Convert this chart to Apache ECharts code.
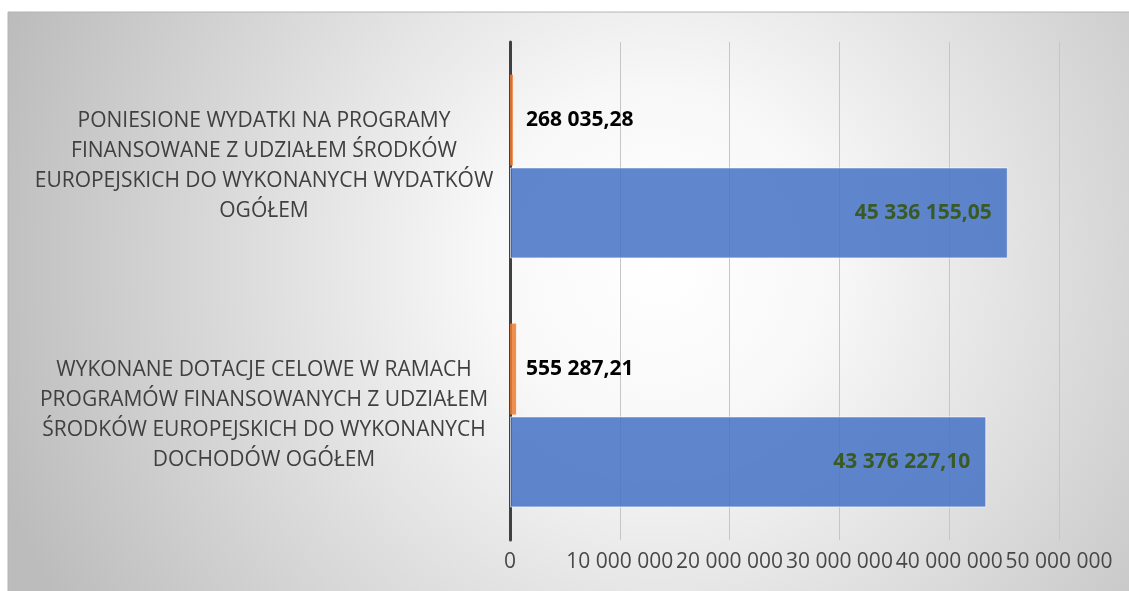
<!DOCTYPE html>
<html>
<head>
<meta charset="utf-8">
<script src="https://cdn.jsdelivr.net/npm/echarts@6/dist/echarts.min.js"></script>
<style>
html,body{margin:0;padding:0;background:#ffffff;}
#chart{width:1129px;height:591px;}
</style>
</head>
<body>
<div id="chart"></div>
<script>
// Categories (bottom to top, as in the source chart)
const categories = [
  "WYKONANE DOTACJE CELOWE W RAMACH\nPROGRAMÓW FINANSOWANYCH Z UDZIAŁEM\nŚRODKÓW EUROPEJSKICH DO WYKONANYCH\nDOCHODÓW OGÓŁEM",
  "PONIESIONE WYDATKI NA PROGRAMY\nFINANSOWANE Z UDZIAŁEM ŚRODKÓW\nEUROPEJSKICH DO WYKONANYCH WYDATKÓW\nOGÓŁEM"
];
const totalName = "Ogółem";
const totalValues = [43376227.10, 45336155.05];
const euName = "Z udziałem środków europejskich";
const euValues = [555287.21, 268035.28];
const axisMin = 0, axisMax = 50000000, axisInterval = 10000000;

function fmtNum(v, dec) {
  const s = Number(v).toFixed(dec);
  const parts = s.split('.');
  const intPart = parts[0].replace(/\B(?=(\d{3})+(?!\d))/g, ' ');
  return dec > 0 ? intPart + ',' + parts[1] : intPart;
}

const chart = echarts.init(document.getElementById('chart'), null, {renderer: 'canvas'});
const FONT = '"Open Sans", "Noto Sans", sans-serif';
chart.setOption({
  animation: false,
  backgroundColor: '#ffffff',
  graphic: [{
    type: 'rect',
    z: -10,
    silent: true,
    shape: {x: 8, y: 12, width: 1140, height: 600},
    style: {
      fill: new echarts.graphic.RadialGradient(0.57, 0.42, 1.15, [
        {offset: 0, color: '#ffffff'},
        {offset: 0.25, color: '#f8f8f8'},
        {offset: 1, color: '#bcbcbc'}
      ]),
      stroke: '#b4b4b4',
      lineWidth: 1
    }
  }],
  grid: {left: 510, right: 70, top: 42, bottom: 51, containLabel: false},
  xAxis: {
    type: 'value',
    min: axisMin, max: axisMax, interval: axisInterval,
    axisLine: {show: false},
    axisTick: {show: false},
    splitLine: {show: true, lineStyle: {color: '#c6c6c6', width: 1}},
    axisLabel: {
      color: '#484848', fontFamily: FONT, fontSize: 21, margin: 12,
      hideOverlap: false,
      formatter: v => fmtNum(v, 0)
    }
  },
  yAxis: {
    type: 'category',
    data: categories,
    axisLine: {show: true, onZero: false, lineStyle: {color: '#404040', width: 3}},
    axisTick: {show: false},
    splitLine: {show: false},
    axisLabel: {
      color: '#404040', fontFamily: FONT, fontSize: 21, lineHeight: 30,
      align: 'center', margin: 246, interval: 0
    }
  },
  series: [
    {
      name: euName,
      type: 'bar',
      data: euValues,
      barWidth: 91,
      barGap: '2%',
      itemStyle: {color: 'rgba(237,125,49,0.85)'},
      label: {
        show: true, position: 'insideLeft', distance: 16,
        color: '#000000', fontFamily: FONT, fontWeight: 'bold', fontSize: 21,
        formatter: p => fmtNum(p.value, 2)
      }
    },
    {
      name: totalName,
      type: 'bar',
      data: totalValues,
      barWidth: 91,
      barGap: '2%',
      itemStyle: {color: 'rgba(68,114,196,0.85)', borderColor: 'rgba(255,255,255,0.6)', borderWidth: 1},
      label: {
        show: true, position: 'insideRight', distance: 16,
        color: '#3a5a24', fontFamily: FONT, fontWeight: 'bold', fontSize: 21,
        formatter: p => fmtNum(p.value, 2)
      }
    }
  ]
});
</script>
</body>
</html>
